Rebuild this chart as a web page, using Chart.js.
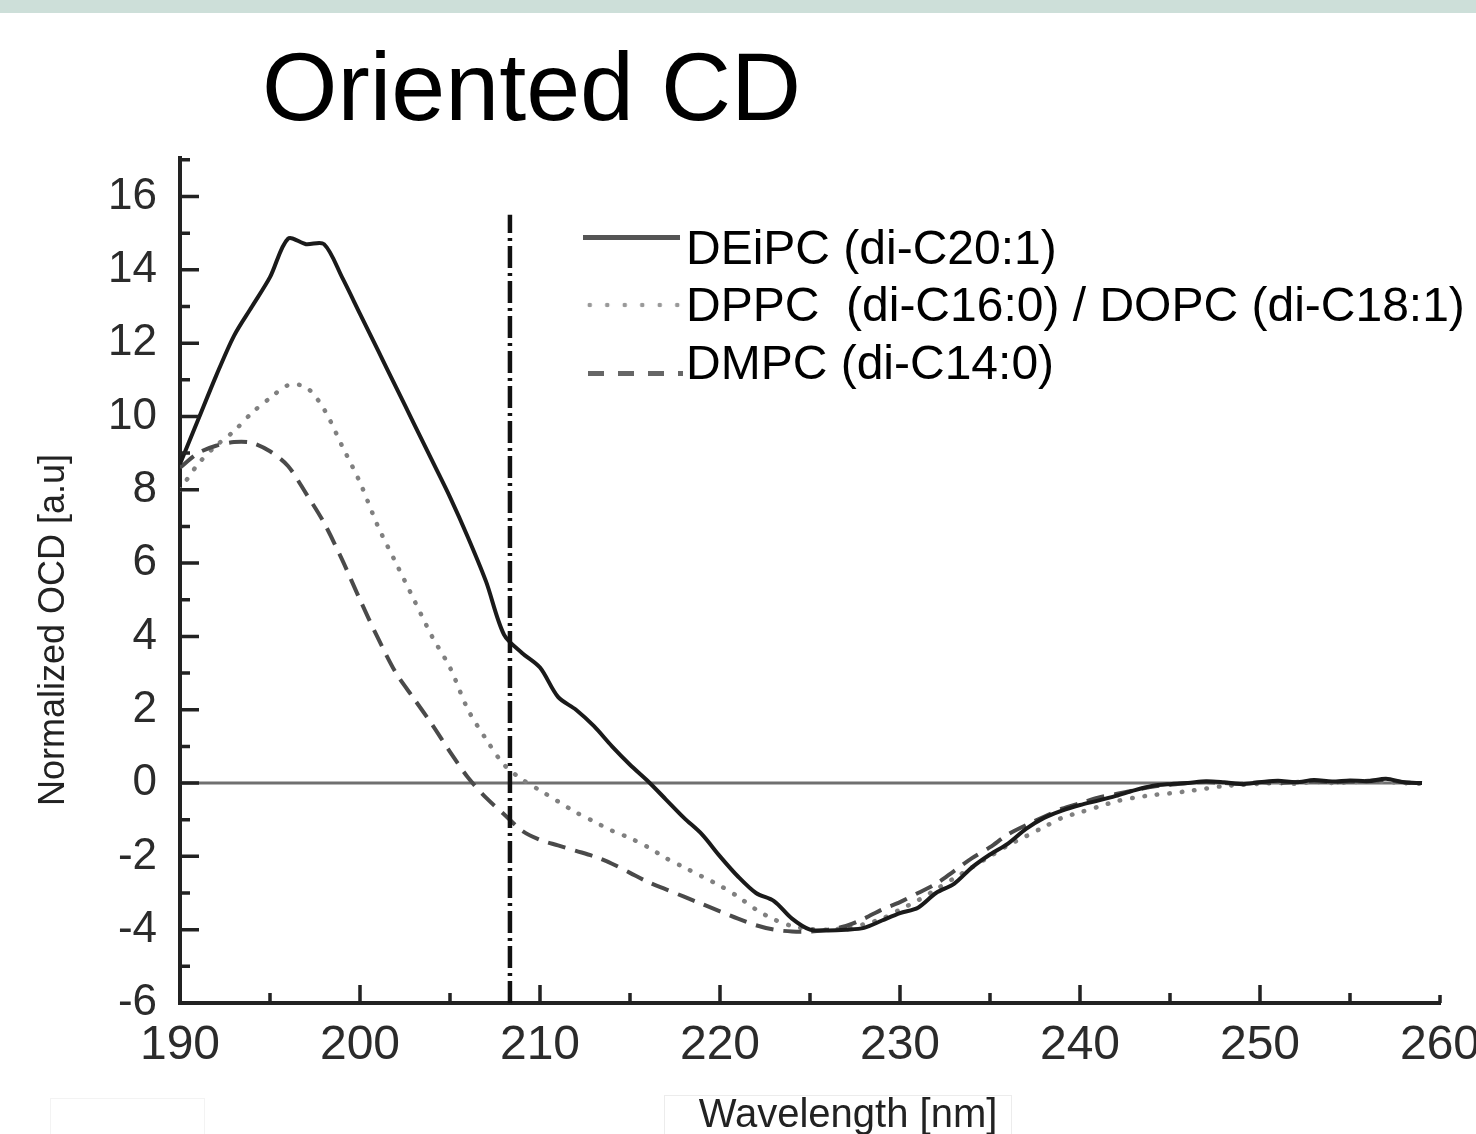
<!DOCTYPE html>
<html>
<head>
<meta charset="utf-8">
<title>Oriented CD</title>
<script src="https://cdn.jsdelivr.net/npm/chart.js@4.4.1/dist/chart.umd.min.js"></script>
<style>
  html, body { margin: 0; padding: 0; background: #fff; }
  body { width: 1476px; height: 1134px; position: relative; overflow: hidden;
         font-family: "Liberation Sans", Arial, sans-serif; }
  #band { position: absolute; left: 0; top: 0; width: 1476px; height: 13px; background: #cddfd9; }
  #wrap { position: absolute; left: 0; top: 0; width: 1476px; height: 1134px; }
  .txt { position: absolute; white-space: nowrap; line-height: 1; color: #000; }
  #title { left: 262px; top: 38px; font-size: 97px; }
  .leg { left: 686px; font-size: 48px; }
  .sample { position: absolute; }
  #ytitle { left: -148px; top: 612px; width: 400px; text-align: center; font-size: 36px;
            color: #222; transform: rotate(-90deg); }
  #xtitle { left: 648px; top: 1093px; width: 400px; text-align: center; font-size: 40px; color: #222; }
  .ghost { position: absolute; border: 1px solid #ececec; }
</style>
</head>
<body>
<div id="band"></div>
<div class="ghost" style="left:664px;top:1095px;width:346px;height:60px;"></div>
<div class="ghost" style="left:50px;top:1098px;width:153px;height:60px;border-color:#f3f3f3;"></div>
<div id="wrap"><canvas id="ocdChart"></canvas></div>

<div class="txt" id="title">Oriented CD</div>

<div class="sample" style="left:583px;top:235px;width:97px;height:5px;background:#555;"></div>
<div class="sample" style="left:581px;top:302px;width:105px;height:6px;
     background:radial-gradient(circle, #999 2px, transparent 2.6px);background-size:17.5px 6px;"></div>
<div class="sample" style="left:588px;top:371px;width:95px;height:5px;
     background:repeating-linear-gradient(to right, #666 0 16px, transparent 16px 30px);"></div>
<div class="txt leg" style="top:224px;">DEiPC (di-C20:1)</div>
<div class="txt leg" style="top:281px;">DPPC&nbsp; (di-C16:0) / DOPC (di-C18:1)</div>
<div class="txt leg" style="top:339px;">DMPC (di-C14:0)</div>

<div class="txt" id="ytitle">Normalized OCD [a.u]</div>
<div class="txt" id="xtitle">Wavelength [nm]</div>

<script>
// wavelength grid, nm
const wavelength = [
  190, 191, 192, 193, 194, 195, 196, 197, 198, 199,
  200, 201, 202, 203, 204, 205, 206, 207, 208, 209,
  210, 211, 212, 213, 214, 215, 216, 217, 218, 219,
  220, 221, 222, 223, 224, 225, 226, 227, 228, 229,
  230, 231, 232, 233, 234, 235, 236, 237, 238, 239,
  240, 241, 242, 243, 244, 245, 246, 247, 248, 249,
  250, 251, 252, 253, 254, 255, 256, 257, 258, 259
];

// DEiPC (di-C20:1), solid
const deipc = [
  8.7, 9.9, 11.1, 12.2, 13.0, 13.8, 14.85, 14.7, 14.7, 13.8,
  12.8, 11.8, 10.8, 9.8, 8.8, 7.8, 6.7, 5.5, 4.05, 3.55,
  3.15, 2.35, 2.0, 1.55, 1.0, 0.5, 0.05, -0.45, -0.95, -1.4,
  -2.0, -2.55, -3.0, -3.22, -3.7, -4.0, -4.02, -4.0, -3.95, -3.75,
  -3.55, -3.4, -3.0, -2.75, -2.3, -1.95, -1.65, -1.25, -0.95, -0.75,
  -0.6, -0.48, -0.35, -0.2, -0.08, -0.03, 0.0, 0.05, 0.02, -0.03,
  0.02, 0.06, 0.02, 0.08, 0.04, 0.07, 0.05, 0.12, 0.02, 0.0
];

// DPPC (di-C16:0) / DOPC (di-C18:1), dotted
const dppc = [
  8.0, 8.7, 9.2, 9.6, 10.1, 10.5, 10.85, 10.8, 10.2, 9.2,
  8.2, 7.0, 6.0, 5.0, 4.0, 3.15, 2.0, 1.2, 0.5, 0.1,
  -0.2, -0.5, -0.8, -1.05, -1.3, -1.5, -1.75, -2.05, -2.3, -2.55,
  -2.8, -3.1, -3.45, -3.72, -3.9, -3.98, -4.0, -3.95, -3.85, -3.7,
  -3.45, -3.2, -2.9, -2.6, -2.3, -2.0, -1.7, -1.45, -1.2, -0.95,
  -0.8, -0.65, -0.5, -0.4, -0.33, -0.28, -0.22, -0.15, -0.08, -0.05,
  -0.02, 0.0, -0.02, 0.03, 0.0, 0.02, 0.04, 0.03, 0.0, -0.02
];

// DMPC (di-C14:0), dashed
const dmpc = [
  8.6, 9.0, 9.2, 9.3, 9.28, 9.05, 8.65, 7.9, 7.1, 6.1,
  5.0, 3.95, 3.0, 2.3, 1.6, 0.85, 0.15, -0.4, -0.85, -1.3,
  -1.55, -1.7, -1.85, -2.0, -2.2, -2.45, -2.7, -2.9, -3.1, -3.3,
  -3.5, -3.7, -3.88, -4.0, -4.05, -4.05, -4.0, -3.9, -3.7, -3.45,
  -3.25, -3.0, -2.75, -2.4, -2.05, -1.75, -1.4, -1.15, -0.92, -0.7,
  -0.55, -0.4, -0.3, -0.2, -0.1, -0.05, 0.0, 0.03, 0.0, -0.02,
  0.02, 0.0, 0.03, 0.05, 0.02, 0.04, 0.06, 0.08, 0.02, 0.0
];

// reference lines
const zeroLineX = [190, 259];
const zeroLineY = [0, 0];
const markerX = [208.33, 208.33];
const markerY = [-6, 15.5];

// axis ticks
const xMajor = [190, 200, 210, 220, 230, 240, 250, 260];
const xMinor = [195, 205, 215, 225, 235, 245, 255];
const yMajor = [-6, -4, -2, 0, 2, 4, 6, 8, 10, 12, 14, 16];
const yMinor = [-5, -3, -1, 1, 3, 5, 7, 9, 11, 13, 15, 17];

const pts = (xs, ys) => xs.map((v, i) => ({ x: v, y: ys[i] }));

// ticks pointing into the plot, like the original
const innerTicks = {
  id: 'innerTicks',
  afterDatasetsDraw(chart) {
    const { ctx, scales: { x, y } } = chart;
    const left = x.left, bottom = y.bottom;
    ctx.save();
    ctx.strokeStyle = '#222';
    ctx.lineWidth = 3.5;
    ctx.beginPath();
    yMajor.forEach(v => { const p = y.getPixelForValue(v); ctx.moveTo(left, p); ctx.lineTo(left + 19, p); });
    yMinor.forEach(v => { const p = y.getPixelForValue(v); ctx.moveTo(left, p); ctx.lineTo(left + 10, p); });
    xMajor.forEach(v => { const p = x.getPixelForValue(v); ctx.moveTo(p, bottom); ctx.lineTo(p, bottom - (v === 260 ? 8 : 18)); });
    xMinor.forEach(v => { const p = x.getPixelForValue(v); ctx.moveTo(p, bottom); ctx.lineTo(p, bottom - 10); });
    ctx.stroke();
    ctx.restore();
  }
};

const tickFont = { family: '"Liberation Sans", Arial, sans-serif', size: 48 };

new Chart(document.getElementById('ocdChart'), {
  type: 'line',
  data: {
    datasets: [
      {
        label: 'DEiPC (di-C20:1)',
        data: pts(wavelength, deipc),
        borderColor: '#1a1a1a',
        borderWidth: 4,
        tension: 0.3,
        order: 1
      },
      {
        label: 'DPPC (di-C16:0) / DOPC (di-C18:1)',
        data: pts(wavelength, dppc),
        borderColor: '#808080',
        borderWidth: 4.5,
        borderDash: [0.5, 12],
        borderCapStyle: 'round',
        tension: 0.3,
        order: 3
      },
      {
        label: 'DMPC (di-C14:0)',
        data: pts(wavelength, dmpc),
        borderColor: '#4a4a4a',
        borderWidth: 4,
        borderDash: [18, 10],
        tension: 0.3,
        order: 2
      },
      {
        label: 'zero',
        data: pts(zeroLineX, zeroLineY),
        borderColor: '#707070',
        borderWidth: 3,
        order: 5
      },
      {
        label: 'marker',
        data: pts(markerX, markerY),
        borderColor: '#111',
        borderWidth: 4.5,
        borderDash: [22, 5, 3, 5],
        order: 0
      }
    ]
  },
  options: {
    responsive: true,
    maintainAspectRatio: false,
    devicePixelRatio: 1,
    animation: false,
    layout: { padding: { left: 0, top: 158, right: 36, bottom: 0 } },
    elements: { point: { radius: 0 } },
    plugins: { legend: { display: false }, tooltip: { enabled: false } },
    scales: {
      x: {
        type: 'linear',
        min: 190,
        max: 260,
        grid: { display: false, drawTicks: false },
        border: { display: true, color: '#222', width: 4 },
        ticks: { stepSize: 10, padding: 14, maxRotation: 0, autoSkip: false, font: tickFont, color: '#2b2b2b' },
        afterFit(scale) { scale.height = 131; scale.paddingLeft = 0; scale.paddingRight = 0; }
      },
      y: {
        type: 'linear',
        min: -6,
        max: 17.05,
        grid: { display: false, drawTicks: false },
        border: { display: true, color: '#222', width: 4 },
        ticks: { stepSize: 2, includeBounds: false, padding: 23, font: { ...tickFont, size: 44 }, color: '#2b2b2b' },
        afterFit(scale) { scale.width = 180; scale.paddingTop = 0; scale.paddingBottom = 0; }
      }
    }
  },
  plugins: [innerTicks]
});
</script>
</body>
</html>
